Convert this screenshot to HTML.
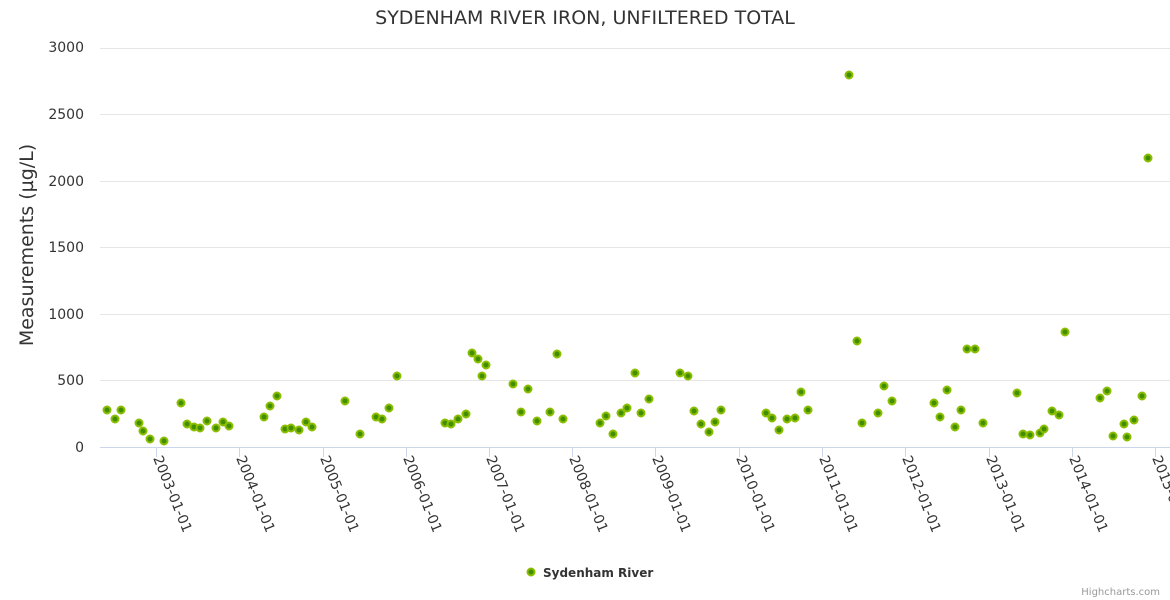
<!DOCTYPE html>
<html><head><style>body{margin:0;background:#fff}svg{display:block;font-family:"DejaVu Sans","Liberation Sans",sans-serif}</style></head><body>
<svg width="1170" height="600" viewBox="0 0 1170 600" xmlns="http://www.w3.org/2000/svg">
<text x="585" y="24" text-anchor="middle" font-size="19" fill="#333">SYDENHAM RIVER IRON, UNFILTERED TOTAL</text>
<g stroke="#e6e6e6" stroke-width="1">
<line x1="100" x2="1170" y1="48.5" y2="48.5"/><line x1="100" x2="1170" y1="114.5" y2="114.5"/><line x1="100" x2="1170" y1="181.5" y2="181.5"/><line x1="100" x2="1170" y1="247.5" y2="247.5"/><line x1="100" x2="1170" y1="314.5" y2="314.5"/><line x1="100" x2="1170" y1="380.5" y2="380.5"/>
</g>
<line x1="100" x2="1170" y1="447.5" y2="447.5" stroke="#ccd6eb"/>
<g font-size="14" fill="#333" text-anchor="end">
<text x="84" y="52">3000</text><text x="84" y="119">2500</text><text x="84" y="186">2000</text><text x="84" y="252">1500</text><text x="84" y="319">1000</text><text x="84" y="385">500</text><text x="84" y="452">0</text>
</g>
<text transform="translate(33,245) rotate(-90)" text-anchor="middle" font-size="19" fill="#333">Measurements (µg/L)</text>
<g stroke="#ccd6eb">
<line x1="156.5" x2="156.5" y1="447" y2="457"/><line x1="239.5" x2="239.5" y1="447" y2="457"/><line x1="323.5" x2="323.5" y1="447" y2="457"/><line x1="406.5" x2="406.5" y1="447" y2="457"/><line x1="489.5" x2="489.5" y1="447" y2="457"/><line x1="572.5" x2="572.5" y1="447" y2="457"/><line x1="655.5" x2="655.5" y1="447" y2="457"/><line x1="739.5" x2="739.5" y1="447" y2="457"/><line x1="822.5" x2="822.5" y1="447" y2="457"/><line x1="905.5" x2="905.5" y1="447" y2="457"/><line x1="989.5" x2="989.5" y1="447" y2="457"/><line x1="1072.5" x2="1072.5" y1="447" y2="457"/><line x1="1155.5" x2="1155.5" y1="447" y2="457"/>
</g>
<g font-size="14" fill="#333">
<text transform="translate(153,458) rotate(68)">2003-01-01</text>
<text transform="translate(236,458) rotate(68)">2004-01-01</text>
<text transform="translate(320,458) rotate(68)">2005-01-01</text>
<text transform="translate(403,458) rotate(68)">2006-01-01</text>
<text transform="translate(486,458) rotate(68)">2007-01-01</text>
<text transform="translate(569,458) rotate(68)">2008-01-01</text>
<text transform="translate(652,458) rotate(68)">2009-01-01</text>
<text transform="translate(736,458) rotate(68)">2010-01-01</text>
<text transform="translate(819,458) rotate(68)">2011-01-01</text>
<text transform="translate(902,458) rotate(68)">2012-01-01</text>
<text transform="translate(986,458) rotate(68)">2013-01-01</text>
<text transform="translate(1069,458) rotate(68)">2014-01-01</text>
<text transform="translate(1152,458) rotate(68)">2015-01-01</text>
</g>
<g fill="#3f8f00" stroke="#8cbd00" stroke-width="2">
<circle cx="107" cy="410" r="3.5"/><circle cx="115" cy="419" r="3.5"/><circle cx="121" cy="410" r="3.5"/><circle cx="139" cy="423" r="3.5"/><circle cx="143" cy="431" r="3.5"/><circle cx="150" cy="439" r="3.5"/><circle cx="164" cy="441" r="3.5"/><circle cx="181" cy="403" r="3.5"/><circle cx="187" cy="424" r="3.5"/><circle cx="194" cy="427" r="3.5"/><circle cx="200" cy="428" r="3.5"/><circle cx="207" cy="421" r="3.5"/><circle cx="216" cy="428" r="3.5"/><circle cx="223" cy="422" r="3.5"/><circle cx="229" cy="426" r="3.5"/><circle cx="264" cy="417" r="3.5"/><circle cx="270" cy="406" r="3.5"/><circle cx="277" cy="396" r="3.5"/><circle cx="285" cy="429" r="3.5"/><circle cx="291" cy="428" r="3.5"/><circle cx="299" cy="430" r="3.5"/><circle cx="306" cy="422" r="3.5"/><circle cx="312" cy="427" r="3.5"/><circle cx="345" cy="401" r="3.5"/><circle cx="360" cy="434" r="3.5"/><circle cx="376" cy="417" r="3.5"/><circle cx="382" cy="419" r="3.5"/><circle cx="389" cy="408" r="3.5"/><circle cx="397" cy="376" r="3.5"/><circle cx="445" cy="423" r="3.5"/><circle cx="451" cy="424" r="3.5"/><circle cx="458" cy="419" r="3.5"/><circle cx="466" cy="414" r="3.5"/><circle cx="472" cy="353" r="3.5"/><circle cx="478" cy="359" r="3.5"/><circle cx="482" cy="376" r="3.5"/><circle cx="486" cy="365" r="3.5"/><circle cx="513" cy="384" r="3.5"/><circle cx="521" cy="412" r="3.5"/><circle cx="528" cy="389" r="3.5"/><circle cx="537" cy="421" r="3.5"/><circle cx="550" cy="412" r="3.5"/><circle cx="557" cy="354" r="3.5"/><circle cx="563" cy="419" r="3.5"/><circle cx="600" cy="423" r="3.5"/><circle cx="606" cy="416" r="3.5"/><circle cx="613" cy="434" r="3.5"/><circle cx="621" cy="413" r="3.5"/><circle cx="627" cy="408" r="3.5"/><circle cx="635" cy="373" r="3.5"/><circle cx="641" cy="413" r="3.5"/><circle cx="649" cy="399" r="3.5"/><circle cx="680" cy="373" r="3.5"/><circle cx="688" cy="376" r="3.5"/><circle cx="694" cy="411" r="3.5"/><circle cx="701" cy="424" r="3.5"/><circle cx="709" cy="432" r="3.5"/><circle cx="715" cy="422" r="3.5"/><circle cx="721" cy="410" r="3.5"/><circle cx="766" cy="413" r="3.5"/><circle cx="772" cy="418" r="3.5"/><circle cx="779" cy="430" r="3.5"/><circle cx="787" cy="419" r="3.5"/><circle cx="795" cy="418" r="3.5"/><circle cx="801" cy="392" r="3.5"/><circle cx="808" cy="410" r="3.5"/><circle cx="849" cy="75" r="3.5"/><circle cx="857" cy="341" r="3.5"/><circle cx="862" cy="423" r="3.5"/><circle cx="878" cy="413" r="3.5"/><circle cx="884" cy="386" r="3.5"/><circle cx="892" cy="401" r="3.5"/><circle cx="934" cy="403" r="3.5"/><circle cx="940" cy="417" r="3.5"/><circle cx="947" cy="390" r="3.5"/><circle cx="955" cy="427" r="3.5"/><circle cx="961" cy="410" r="3.5"/><circle cx="967" cy="349" r="3.5"/><circle cx="975" cy="349" r="3.5"/><circle cx="983" cy="423" r="3.5"/><circle cx="1017" cy="393" r="3.5"/><circle cx="1023" cy="434" r="3.5"/><circle cx="1030" cy="435" r="3.5"/><circle cx="1040" cy="433" r="3.5"/><circle cx="1044" cy="429" r="3.5"/><circle cx="1052" cy="411" r="3.5"/><circle cx="1059" cy="415" r="3.5"/><circle cx="1065" cy="332" r="3.5"/><circle cx="1100" cy="398" r="3.5"/><circle cx="1107" cy="391" r="3.5"/><circle cx="1113" cy="436" r="3.5"/><circle cx="1124" cy="424" r="3.5"/><circle cx="1127" cy="437" r="3.5"/><circle cx="1134" cy="420" r="3.5"/><circle cx="1142" cy="396" r="3.5"/><circle cx="1148" cy="158" r="3.5"/>
<circle cx="531" cy="572" r="3.5"/>
</g>
<text x="543" y="577" font-size="12" font-weight="bold" fill="#333">Sydenham River</text>
<text x="1160" y="595" text-anchor="end" font-size="10" fill="#999">Highcharts.com</text>
</svg>
</body></html>
